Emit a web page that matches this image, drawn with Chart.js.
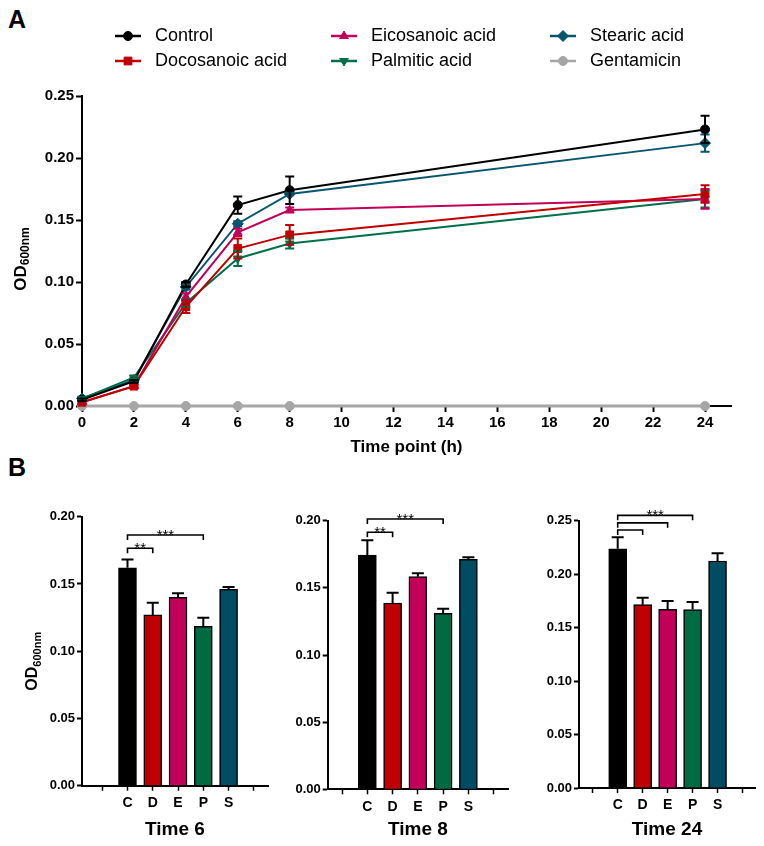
<!DOCTYPE html>
<html>
<head>
<meta charset="utf-8">
<script src="https://cdn.jsdelivr.net/npm/chart.js@4/dist/chart.umd.min.js"></script>
<style>
html,body{margin:0;padding:0;background:#fff;}
body{width:764px;height:846px;position:relative;overflow:hidden;font-family:Arial,"Liberation Sans",sans-serif;}
.wrap{position:absolute;}
.wrap canvas{display:block;}
.lbl{position:absolute;font-weight:bold;font-size:25px;line-height:1;color:#000;font-family:Arial,"Liberation Sans",sans-serif;}
</style>
</head>
<body>
<div class="lbl" style="left:8px;top:7px">A</div>
<div class="lbl" style="left:8px;top:455px">B</div>
<div class="wrap" style="left:0;top:0;width:764px;height:470px"><canvas id="cA" width="764" height="470"></canvas></div>
<div class="wrap" style="left:0;top:480px;width:275px;height:366px"><canvas id="c6" width="275" height="366"></canvas></div>
<div class="wrap" style="left:275px;top:480px;width:240px;height:366px"><canvas id="c8" width="240" height="366"></canvas></div>
<div class="wrap" style="left:520px;top:480px;width:244px;height:366px"><canvas id="c24" width="244" height="366"></canvas></div>
<script>
// ---------------- DATA ----------------
const timePoints = [0, 2, 4, 6, 8, 24];
const xTickValues = [0, 2, 4, 6, 8, 10, 12, 14, 16, 18, 20, 22, 24];
const seriesNames = ['Control', 'Docosanoic acid', 'Eicosanoic acid', 'Palmitic acid', 'Stearic acid', 'Gentamicin'];

const controlOD    = [0.005, 0.020, 0.098, 0.162, 0.174, 0.223];
const controlErr   = [0.001, 0.001, 0.002, 0.007, 0.011, 0.011];
const docosanoicOD = [0.003, 0.016, 0.080, 0.127, 0.138, 0.171];
const docosanoicErr= [0.001, 0.001, 0.005, 0.008, 0.008, 0.007];
const eicosanoicOD = [0.003, 0.016, 0.088, 0.140, 0.158, 0.167];
const eicosanoicErr= [0.001, 0.001, 0.003, 0.003, 0.002, 0.008];
const palmiticOD   = [0.006, 0.023, 0.083, 0.119, 0.131, 0.167];
const palmiticErr  = [0.001, 0.001, 0.003, 0.006, 0.004, 0.007];
const stearicOD    = [0.006, 0.021, 0.096, 0.147, 0.171, 0.212];
const stearicErr   = [0.001, 0.001, 0.002, 0.002, 0.001, 0.007];
const gentamicinOD = [0.000, 0.000, 0.000, 0.000, 0.000, 0.000];
const gentamicinErr= [0, 0, 0, 0, 0, 0];

const barCategories = ['C', 'D', 'E', 'P', 'S'];
const time6OD   = [0.162, 0.127, 0.140, 0.1185, 0.146];
const time6Err  = [0.0062, 0.0090, 0.003, 0.0064, 0.0018];
const time8OD   = [0.1744, 0.1387, 0.1583, 0.131, 0.1712];
const time8Err  = [0.011, 0.0077, 0.0025, 0.0035, 0.0015];
const time24OD  = [0.2238, 0.1715, 0.1672, 0.1669, 0.2123];
const time24Err = [0.0107, 0.0065, 0.0078, 0.0071, 0.0072];

// significance brackets: [fromCategory, toCategory, level, label]
const time6Sig  = [['C', 'D', 0.1765, '**'], ['C', 'P', 0.1864, '***']];
const time8Sig  = [['C', 'D', 0.1914, '**'], ['C', 'P', 0.2013, '***']];
const time24Sig = [['C', 'D', 0.2413, ''], ['C', 'E', 0.2480, ''], ['C', 'P', 0.2550, '***']];

// ---------------- STYLES ----------------
const FONT = 'Arial, "Liberation Sans", sans-serif';
const seriesColors = ['#000000', '#c00000', '#c2005a', '#00704a', '#07566e', '#a6a6a6'];
const seriesMarkers = ['circle', 'rect', 'triangle', 'triangle', 'rectRot', 'circle'];
const markerRotation = [0, 0, 0, 180, 0, 0];
const markerRadius = [4.5, 5.5, 5, 5, 5.5, 4.5];
const barColors = ['#000000', '#c00000', '#c2005a', '#006b42', '#004d63'];

const seriesValues = [controlOD, docosanoicOD, eicosanoicOD, palmiticOD, stearicOD, gentamicinOD];
const seriesErrors = [controlErr, docosanoicErr, eicosanoicErr, palmiticErr, stearicErr, gentamicinErr];

// ---------------- PLUGINS ----------------
function drawMarker(ctx, style, r, rot, x, y, color) {
  ctx.save();
  ctx.fillStyle = color; ctx.strokeStyle = color; ctx.lineWidth = 1;
  if (Chart.helpers && Chart.helpers.drawPoint) {
    Chart.helpers.drawPoint(ctx, {pointStyle: style, radius: r, rotation: rot, borderWidth: 1}, x, y);
  } else {
    ctx.beginPath(); ctx.arc(x, y, r, 0, Math.PI * 2); ctx.fill();
  }
  ctx.restore();
}

const errorBarPlugin = {
  id: 'errorBars',
  afterDatasetsDraw(chart, args, opts) {
    const ctx = chart.ctx, ys = chart.scales.y;
    const n = chart.data.datasets.length;
    for (let di = n - 1; di >= 0; di--) {
      const ds = chart.data.datasets[di];
      if (!ds.errorValues) continue;
      const meta = chart.getDatasetMeta(di);
      ctx.save();
      ctx.lineWidth = opts.lineWidth || 2;
      meta.data.forEach((el, i) => {
        const e = ds.errorValues[i];
        if (!e) return;
        const v = ds.data[i].y;
        const col = opts.color || ds.borderColor;
        ctx.strokeStyle = Array.isArray(col) ? col[i] : col;
        const x = el.x;
        const yTop = ys.getPixelForValue(v + e);
        const yBot = opts.upOnly ? ys.getPixelForValue(v) : ys.getPixelForValue(v - e);
        const cw = opts.capHalf || 4.5;
        ctx.beginPath();
        ctx.moveTo(x, yBot); ctx.lineTo(x, yTop);
        ctx.moveTo(x - cw, yTop); ctx.lineTo(x + cw, yTop);
        if (!opts.upOnly) { ctx.moveTo(x - cw, yBot); ctx.lineTo(x + cw, yBot); }
        ctx.stroke();
      });
      ctx.restore();
    }
  }
};

const odTitlePlugin = {
  id: 'odTitle',
  afterDraw(chart, args, opts) {
    if (!opts.show) return;
    const ctx = chart.ctx, ca = chart.chartArea;
    ctx.save();
    const main = 'bold ' + opts.size + 'px ' + FONT;
    const sub = 'bold ' + opts.subSize + 'px ' + FONT;
    ctx.font = main; const w1 = ctx.measureText('OD').width;
    ctx.font = sub; const w2 = ctx.measureText('600nm').width;
    const total = w1 + w2;
    const cy = (ca.top + ca.bottom) / 2 + (opts.shift || 0);
    ctx.translate(opts.x, cy);
    ctx.rotate(-Math.PI / 2);
    ctx.fillStyle = '#000';
    ctx.textBaseline = 'middle';
    ctx.textAlign = 'left';
    ctx.font = main; ctx.fillText('OD', -total / 2, 0);
    ctx.font = sub; ctx.fillText('600nm', -total / 2 + w1, opts.size * 0.3);
    ctx.restore();
  }
};

const legendPlugin = {
  id: 'multiLegend',
  afterDraw(chart, args, opts) {
    if (!opts.show) return;
    const ctx = chart.ctx;
    chart.data.datasets.forEach((ds, i) => {
      const col = Math.floor(i / 2), row = i % 2;
      const x = opts.xs[col], y = opts.ys[row];
      ctx.save();
      ctx.strokeStyle = ds.borderColor; ctx.lineWidth = 2.5;
      ctx.beginPath(); ctx.moveTo(x, y); ctx.lineTo(x + opts.lineLen, y); ctx.stroke();
      drawMarker(ctx, ds.pointStyle, ds.pointRadius, ds.pointRotation, x + opts.lineLen / 2, y, ds.borderColor);
      ctx.fillStyle = '#000';
      ctx.font = opts.size + 'px ' + FONT;
      ctx.textBaseline = 'middle'; ctx.textAlign = 'left';
      ctx.fillText(ds.label, x + opts.lineLen + opts.gap, y);
      ctx.restore();
    });
  }
};

const bracketPlugin = {
  id: 'sigBrackets',
  afterDraw(chart, args, opts) {
    const list = opts.list;
    if (!list) return;
    const ctx = chart.ctx, xs = chart.scales.x, ys = chart.scales.y;
    ctx.save();
    ctx.strokeStyle = '#000'; ctx.fillStyle = '#000'; ctx.lineWidth = 1.6;
    ctx.font = '15px ' + FONT; ctx.textAlign = 'center'; ctx.textBaseline = 'alphabetic';
    const hook = 5;
    for (let k = 0; k < list.length; k++) {
      const b = list[k];
      const x1 = xs.getPixelForValue(barCategories.indexOf(b[0]) + 1);
      const x2 = xs.getPixelForValue(barCategories.indexOf(b[1]) + 1);
      const y = ys.getPixelForValue(b[2]);
      ctx.beginPath();
      ctx.moveTo(x1, y + hook); ctx.lineTo(x1, y); ctx.lineTo(x2, y); ctx.lineTo(x2, y + hook);
      ctx.stroke();
      if (b[3]) ctx.fillText(b[3], (x1 + x2) / 2, y + 5);
    }
    ctx.restore();
  }
};

Chart.register(errorBarPlugin, odTitlePlugin, legendPlugin, bracketPlugin);

// ---------------- CHART A ----------------
const lineDatasets = seriesNames.map((name, s) => ({
  label: name,
  data: timePoints.map((t, i) => ({x: t, y: seriesValues[s][i]})),
  errorValues: seriesErrors[s],
  borderColor: seriesColors[s],
  backgroundColor: seriesColors[s],
  pointBackgroundColor: seriesColors[s],
  pointBorderColor: seriesColors[s],
  pointStyle: seriesMarkers[s],
  pointRotation: markerRotation[s],
  pointRadius: markerRadius[s],
  pointBorderWidth: 1,
  borderWidth: s === 5 ? 3 : 2,
  tension: 0,
  clip: false
}));

new Chart(document.getElementById('cA'), {
  type: 'line',
  data: {datasets: lineDatasets},
  options: {
    responsive: false, animation: false, devicePixelRatio: 1,
    layout: {padding: {left: 0, right: 33, top: 96, bottom: 0}},
    plugins: {
      legend: {display: false}, tooltip: {enabled: false},
      errorBars: {lineWidth: 2, capHalf: 4.5, upOnly: false},
      odTitle: {show: true, x: 21, size: 17, subSize: 12, shift: 8},
      multiLegend: {show: true, xs: [115, 331, 550], ys: [36, 61], lineLen: 26, gap: 14, size: 18},
      sigBrackets: {list: null}
    },
    scales: {
      x: {
        type: 'linear', min: 0, max: 25,
        afterBuildTicks: (sc) => { sc.ticks = xTickValues.map(v => ({value: v})); },
        afterFit: (sc) => { sc.height = 64; },
        grid: {display: true, drawOnChartArea: false, drawTicks: true, tickLength: 6, tickColor: '#000', tickWidth: 2},
        border: {display: true, color: '#000', width: 2},
        ticks: {color: '#000', font: {family: FONT, size: 15, weight: 'bold'}, padding: 2, maxRotation: 0, autoSkip: false},
        title: {display: true, text: 'Time point (h)', color: '#000', font: {family: FONT, size: 17, weight: 'bold'}, padding: {top: 0, bottom: 12}}
      },
      y: {
        type: 'linear', min: 0, max: 0.25,
        afterFit: (sc) => { sc.width = 82; },
        grid: {display: true, drawOnChartArea: false, drawTicks: true, tickLength: 6, tickColor: '#000', tickWidth: 2},
        border: {display: true, color: '#000', width: 2},
        ticks: {stepSize: 0.05, color: '#000', font: {family: FONT, size: 15, weight: 'bold'}, padding: 2,
                callback: (v) => Number(v).toFixed(2)}
      }
    }
  }
});

// ---------------- CHART B panels ----------------
const panels = [
  {id: 'c6',  values: time6OD,  errors: time6Err,  sig: time6Sig,  title: 'Time 6',  yMax: 0.20,
   axisW: 82, padRight: 7, padTop: 36.7, axisH: 60.3, xMin: -0.8, xMax: 6.56, yTitle: true},
  {id: 'c8',  values: time8OD,  errors: time8Err,  sig: time8Sig,  title: 'Time 8',  yMax: 0.20,
   axisW: 52.7, padRight: 6.7, padTop: 40.7, axisH: 56.7, xMin: -0.57, xMax: 6.58, yTitle: false},
  {id: 'c24', values: time24OD, errors: time24Err, sig: time24Sig, title: 'Time 24', yMax: 0.25,
   axisW: 59, padRight: 9, padTop: 40.7, axisH: 58, xMin: -0.55, xMax: 6.5, yTitle: false}
];

panels.forEach(p => {
  new Chart(document.getElementById(p.id), {
    type: 'bar',
    data: {
      datasets: [{
        data: barCategories.map((c, i) => ({x: i + 1, y: p.values[i]})),
        errorValues: p.errors,
        backgroundColor: barColors,
        borderColor: '#000',
        borderWidth: 1.5,
        borderSkipped: 'bottom',
        barThickness: 18
      }]
    },
    options: {
      responsive: false, animation: false, devicePixelRatio: 1,
      layout: {padding: {left: 0, right: p.padRight, top: p.padTop, bottom: 0}},
      plugins: {
        legend: {display: false}, tooltip: {enabled: false},
        errorBars: {lineWidth: 2, capHalf: 6, upOnly: true, color: '#000'},
        odTitle: {show: p.yTitle, x: 33, size: 16, subSize: 11, shift: 10},
        multiLegend: {show: false},
        sigBrackets: {list: p.sig}
      },
      scales: {
        x: {
          type: 'linear', min: p.xMin, max: p.xMax, offset: false,
          afterBuildTicks: (sc) => { sc.ticks = [0, 1, 2, 3, 4, 5, 6].map(v => ({value: v})); },
          afterFit: (sc) => { sc.height = p.axisH; },
          grid: {display: true, offset: false, drawOnChartArea: false, drawTicks: true, tickLength: 5, tickColor: '#000', tickWidth: 1.5},
          border: {display: true, color: '#000', width: 2},
          ticks: {color: '#000', font: {family: FONT, size: 14, weight: 'bold'}, padding: 4, maxRotation: 0, autoSkip: false,
                  callback: (v) => (v >= 1 && v <= barCategories.length) ? barCategories[v - 1] : ''},
          title: {display: true, text: p.title, color: '#000', font: {family: FONT, size: 19, weight: 'bold'}, padding: {top: 0, bottom: 4.6}}
        },
        y: {
          type: 'linear', min: 0, max: p.yMax,
          afterFit: (sc) => { sc.width = p.axisW; },
          grid: {display: true, drawOnChartArea: false, drawTicks: true, tickLength: 5, tickColor: '#000', tickWidth: 2},
          border: {display: true, color: '#000', width: 2},
          ticks: {stepSize: 0.05, color: '#000', font: {family: FONT, size: 13, weight: 'bold'}, padding: 2,
                  callback: (v) => Number(v).toFixed(2)}
        }
      }
    }
  });
});
</script>
</body>
</html>
